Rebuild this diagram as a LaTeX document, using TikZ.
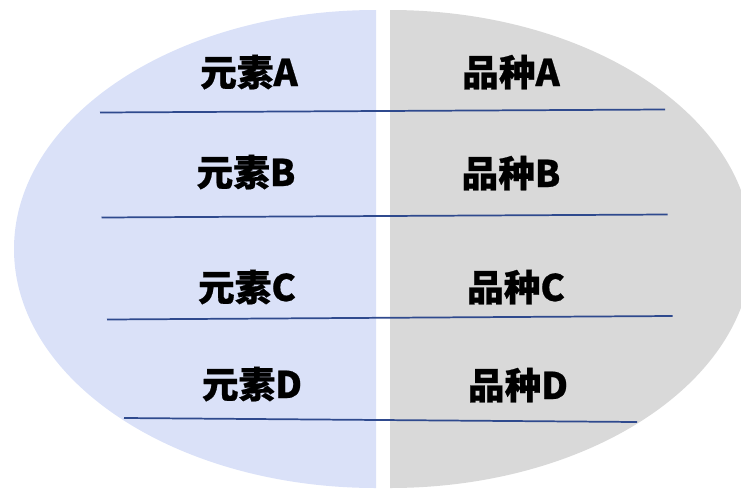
\documentclass[tikz,border=0pt]{standalone}
\usepackage{fontspec}
\newfontfamily\cjk{Noto Sans CJK SC}[BoldFeatures={FakeBold=0.6}]
\definecolor{leftfill}{HTML}{DAE1F8}
\definecolor{rightfill}{HTML}{D9D9D9}
\definecolor{rule}{HTML}{2F4A8E}
\begin{document}
\begin{tikzpicture}[x=0.75pt,y=-0.75pt,
  lbl/.style={anchor=base,inner sep=0pt,font=\cjk\bfseries\fontsize{27.5}{30}\selectfont},
  sep/.style={draw=rule,line width=1.3pt}]
\useasboundingbox (0,0) rectangle (741,489);
\begin{scope}
  \clip (0,0) rectangle (376,489);
  \fill[leftfill] (376,249) ellipse [x radius=362,y radius=239];
\end{scope}
\begin{scope}
  \clip (390,0) rectangle (760,489);
  \fill[rightfill] (390,249) ellipse [x radius=362,y radius=239];
\end{scope}
\coordinate (l1a) at (100,112.5); \coordinate (l1b) at (665,109.5);
\coordinate (l2a) at (101.5,217.5); \coordinate (l2b) at (667.5,214.5);
\coordinate (l3a) at (107,319.5); \coordinate (l3b) at (672.5,316);
\coordinate (l4a) at (124,418); \coordinate (l4b) at (637,422);
\draw[sep] (l1a) -- (l1b);
\draw[sep] (l2a) -- (l2b);
\draw[sep] (l3a) -- (l3b);
\draw[sep] (l4a) -- (l4b);
\node[lbl] (ea) at (249,86) {元素A};
\node[lbl] (pa) at (511,86) {品种A};
\node[lbl] (eb) at (246,186) {元素B};
\node[lbl] (pb) at (511,187) {品种B};
\node[lbl] (ec) at (247,301) {元素C};
\node[lbl] (pc) at (516,301) {品种C};
\node[lbl] (ed) at (252,398) {元素D};
\node[lbl] (pd) at (518,399) {品种D};
\end{tikzpicture}
\end{document}
